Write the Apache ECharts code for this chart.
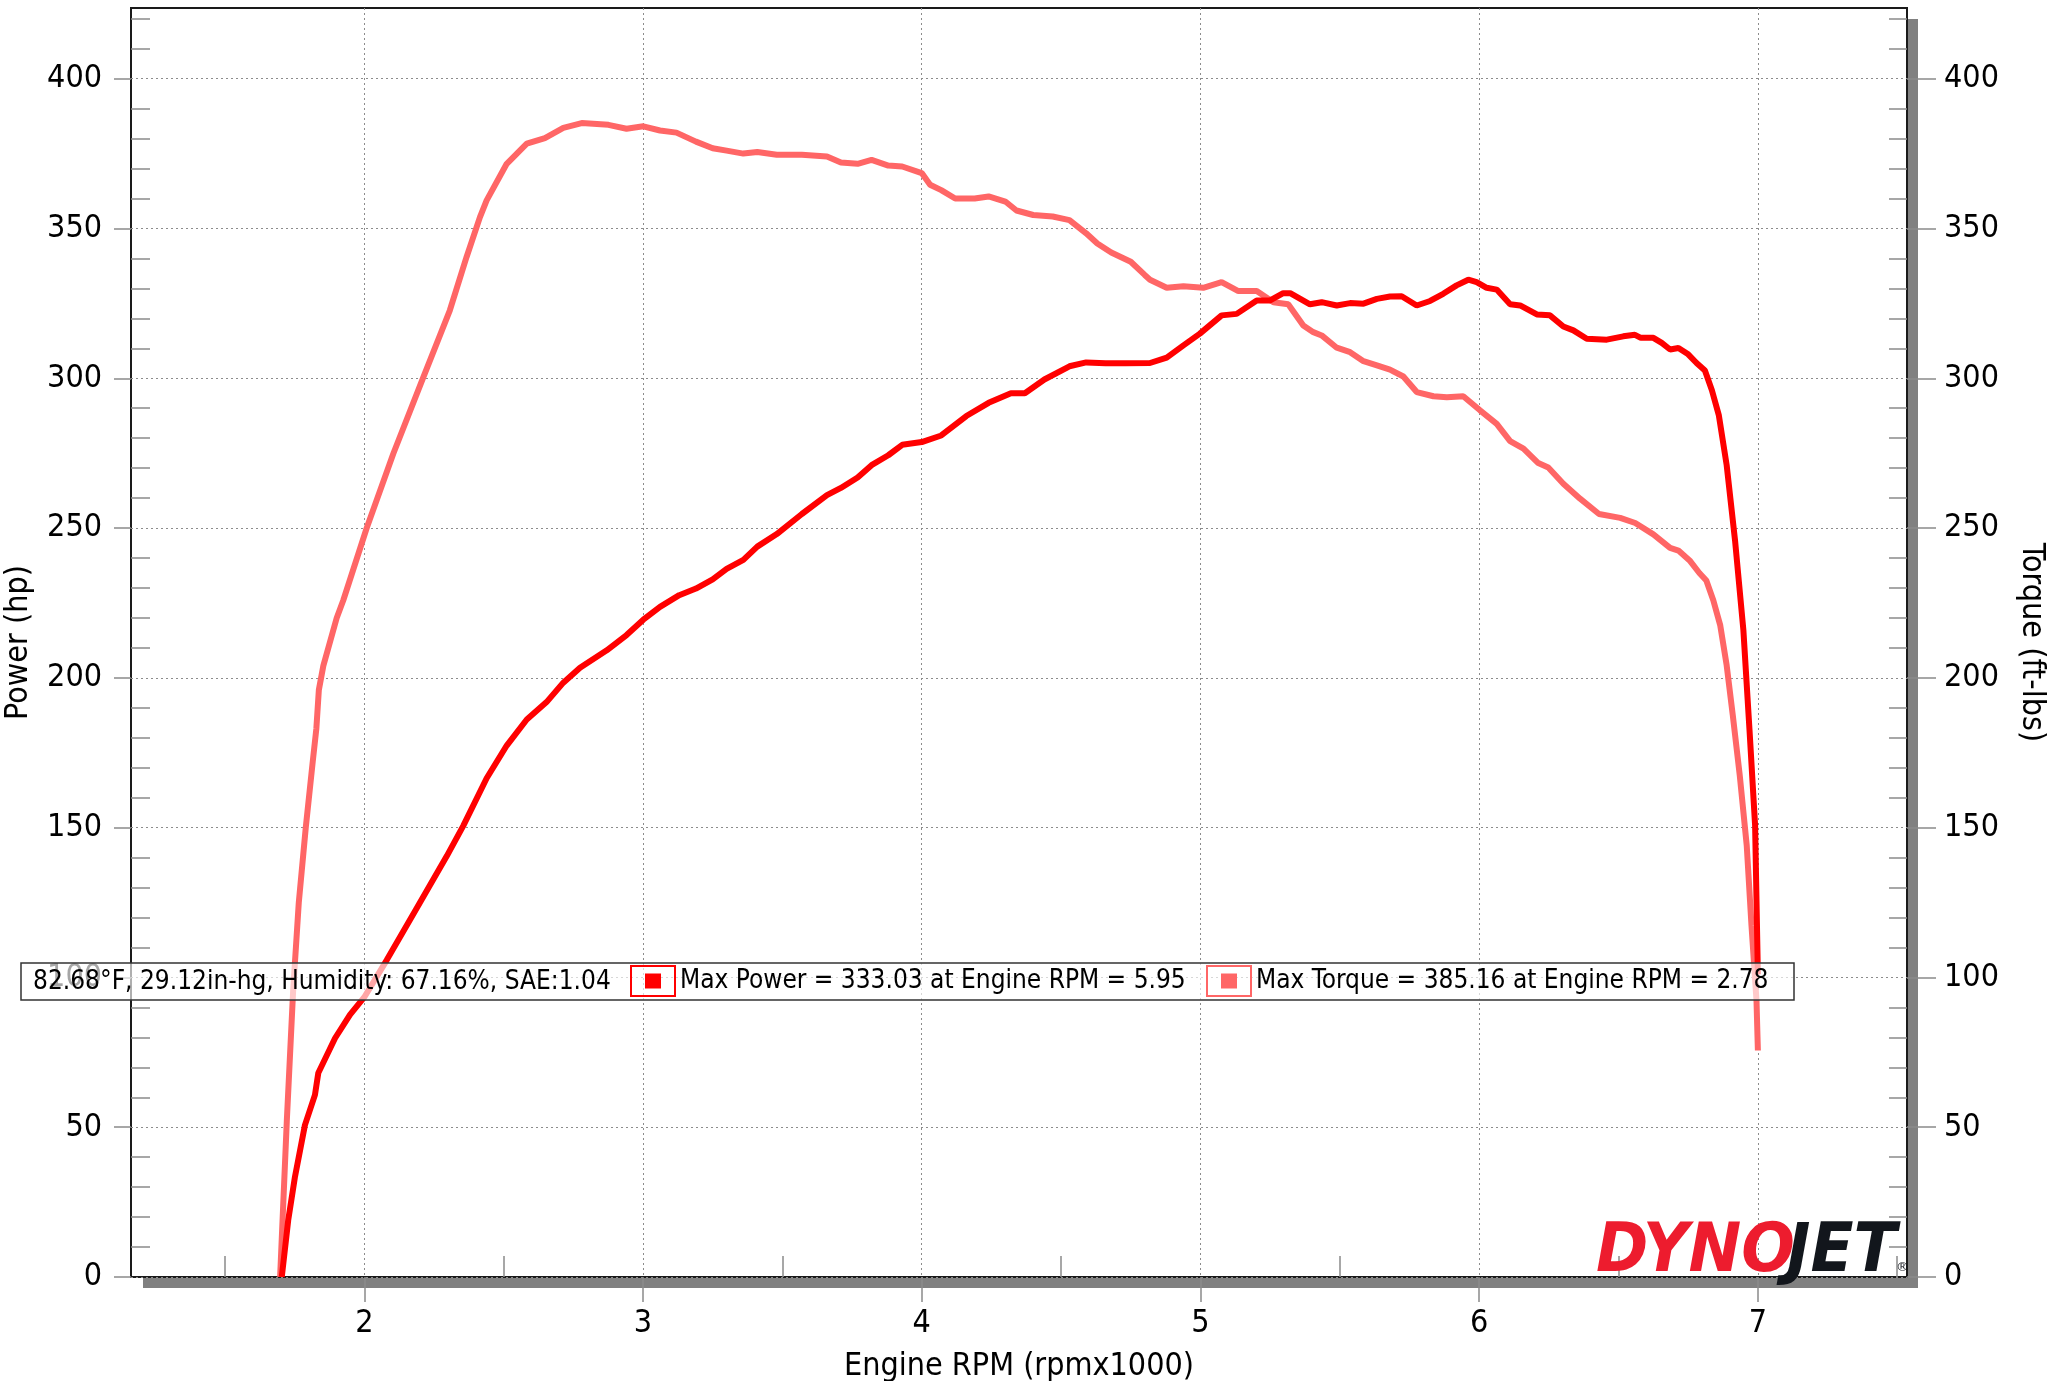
<!DOCTYPE html>
<html><head><meta charset="utf-8">
<script src="https://cdn.jsdelivr.net/npm/echarts@6/dist/echarts.min.js"></script>
<style>html,body{margin:0;padding:0;background:#fff}#c{width:2049px;height:1381px}</style>
</head><body><div id="c"></div>
<script>
const FONT = '"DejaVu Sans Condensed", "DejaVu Sans", sans-serif';

const powerRpm = [1.704,1.727,1.751,1.787,1.823,1.835,1.895,1.949,2.0,2.08,2.188,2.296,2.355,2.439,2.511,2.583,2.654,2.714,2.774,2.87,2.941,3.001,3.061,3.13,3.19,3.25,3.30,3.36,3.41,3.48,3.57,3.66,3.71,3.77,3.82,3.88,3.93,4.0,4.07,4.16,4.24,4.32,4.37,4.44,4.53,4.59,4.66,4.73,4.819,4.879,4.939,4.998,5.076,5.130,5.202,5.25,5.297,5.322,5.393,5.435,5.489,5.537,5.585,5.633,5.68,5.722,5.776,5.824,5.871,5.919,5.961,5.991,6.027,6.063,6.111,6.147,6.207,6.254,6.302,6.338,6.386,6.458,6.517,6.559,6.58,6.625,6.655,6.685,6.715,6.75,6.78,6.81,6.835,6.86,6.888,6.918,6.948,6.97,6.99,7.0];
const powerHp = [0,18.9,33.3,50.7,60.8,68.1,79.7,87.6,93.4,105.7,123.1,140.5,150.6,166.5,177.4,186.1,191.9,198.4,203.4,209.2,214.3,219.4,223.7,227.6,229.8,232.9,236.4,239.4,243.8,248,254.7,261,263.4,266.9,271,274.3,277.8,278.7,280.9,287.4,291.8,295,295,299.6,304,305.3,305,305,305.1,306.9,311,314.9,321,321.5,326,326,328.4,328.4,324.7,325.4,324.3,325.1,324.9,326.5,327.3,327.4,324.3,325.8,328.2,331,332.9,332.1,330.2,329.6,324.7,324.3,321.3,321,317.3,316,313.2,312.9,314,314.5,313.5,313.5,311.8,309.6,310.1,308,305.1,302.6,296,287.6,271,245.9,215.9,182.5,150.8,101];

const torqueRpm = [1.698,1.722,1.745,1.765,1.79,1.815,1.828,1.837,1.853,1.901,1.925,2.009,2.104,2.212,2.307,2.367,2.415,2.439,2.511,2.583,2.648,2.714,2.78,2.876,2.941,3.001,3.061,3.12,3.19,3.25,3.30,3.36,3.41,3.48,3.57,3.66,3.71,3.77,3.82,3.88,3.93,4.0,4.03,4.07,4.12,4.19,4.24,4.30,4.34,4.40,4.47,4.53,4.59,4.63,4.68,4.75,4.80,4.819,4.879,4.939,5.01,5.076,5.136,5.202,5.262,5.315,5.369,5.405,5.435,5.489,5.537,5.585,5.633,5.68,5.728,5.776,5.836,5.884,5.943,6.003,6.063,6.111,6.159,6.212,6.248,6.302,6.362,6.43,6.506,6.56,6.625,6.685,6.715,6.755,6.79,6.815,6.84,6.865,6.888,6.91,6.935,6.96,6.977,6.995,7.0];
const torqueFtLbs = [0,52,96,125,150,172,183,196,204,220,226,250.1,274.8,300.4,322.7,340.5,353.8,359.4,371.6,378.3,380.2,383.6,385.2,384.6,383.3,384.1,382.7,382,379,376.8,376,375,375.5,374.6,374.6,374,372,371.6,372.9,371,370.7,368.5,364.6,362.8,360,360,360.7,359,356,354.5,354,352.8,348.4,345,342,338.9,334.5,332.9,330.2,330.7,330.2,332.1,329.1,329.1,325.4,324.7,317.6,315.4,314.3,310.2,308.7,305.7,304.3,302.9,300.6,295.4,294,293.7,294,289.3,284.8,279,276.5,271.7,270.2,264.8,259.8,254.7,253.4,251.7,247.9,243.4,242.5,239.2,235,232.5,225.9,217.5,204.2,187.5,167.4,144,117.4,92.3,75.6];

const xMajorTicks = [2, 3, 4, 5, 6, 7];
const xMinorTicks = [1.5, 2.5, 3.5, 4.5, 5.5, 6.5, 7.5];
const yMajorTicks = [0, 50, 100, 150, 200, 250, 300, 350, 400];
const yMinorTicks = [10,20,30,40,60,70,80,90,110,120,130,140,160,170,180,190,210,220,230,240,260,270,280,290,310,320,330,340,360,370,380,390,410,420];

const weatherText = '82.68°F, 29.12in-hg, Humidity: 67.16%, SAE:1.04';
const maxPower = '333.03', maxPowerRpm = '5.95';
const maxTorque = '385.16', maxTorqueRpm = '2.78';
const powerName = 'Max Power = ' + maxPower + ' at Engine RPM = ' + maxPowerRpm;
const torqueName = 'Max Torque = ' + maxTorque + ' at Engine RPM = ' + maxTorqueRpm;

const X_MIN = 1.163, X_MAX = 7.535, Y_MIN = 0, Y_MAX = 423.6;
const GL = 131, GT = 8, GW = 1776, GH = 1269;

const powerData = powerRpm.map((r, i) => [r, powerHp[i]]);
const torqueData = torqueRpm.map((r, i) => [r, torqueFtLbs[i]]);

const tickColor = '#8a8a8a';
const gridLine = { show: true, lineStyle: { color: '#8c8c8c', width: 1, type: [2, 3] } };
const labelStyle = { color: '#000', fontFamily: FONT, fontSize: 32 };
const LOGO_FONT = 'italic bold 68px "DejaVu Sans Condensed", "DejaVu Sans", sans-serif';

const iconPath = 'path://M0,0 L46,0 L46,32 L0,32 Z M2,2 L2,30 L44,30 L44,2 Z M15,8.5 L31,8.5 L31,23.5 L15,23.5 Z';

const chart = echarts.init(document.getElementById('c'), null, { renderer: 'canvas' });
chart.setOption({
  animation: false,
  backgroundColor: '#fff',
  grid: { left: GL, top: GT, width: GW, height: GH, show: true, borderColor: '#1a1a1a', borderWidth: 2,
          backgroundColor: 'transparent', containLabel: false, outerBoundsMode: 'none' },
  xAxis: [
    { type: 'value', position: 'bottom', min: X_MIN, max: X_MAX,
      axisLine: { show: false },
      axisTick: { show: true, customValues: xMajorTicks, length: 25, lineStyle: { color: tickColor, width: 1.5 } },
      axisLabel: { customValues: xMajorTicks, margin: 31, ...labelStyle },
      splitLine: gridLine,
      name: 'Engine RPM (rpmx1000)', nameLocation: 'middle', nameGap: 74,
      nameTextStyle: { color: '#000', fontFamily: FONT, fontSize: 32 } },
    { type: 'value', position: 'bottom', min: X_MIN, max: X_MAX,
      axisLine: { show: false },
      axisTick: { show: true, inside: true, customValues: xMinorTicks, length: 21, lineStyle: { color: tickColor, width: 1.5 } },
      axisLabel: { show: false }, splitLine: { show: false } }
  ],
  yAxis: [
    { type: 'value', position: 'left', min: Y_MIN, max: Y_MAX,
      axisLine: { show: false },
      axisTick: { show: true, customValues: yMajorTicks, length: 17, lineStyle: { color: tickColor, width: 1.5 } },
      axisLabel: { customValues: yMajorTicks, margin: 29, ...labelStyle },
      splitLine: gridLine,
      name: 'Power (hp)', nameLocation: 'middle', nameGap: 96,
      nameTextStyle: { color: '#000', fontFamily: FONT, fontSize: 32 } },
    { type: 'value', position: 'right', min: Y_MIN, max: Y_MAX,
      axisLine: { show: false },
      axisTick: { show: true, customValues: yMajorTicks, length: 29, lineStyle: { color: tickColor, width: 1.5 } },
      axisLabel: { customValues: yMajorTicks, margin: 37, ...labelStyle },
      splitLine: { show: false },
      name: 'Torque (ft-lbs)', nameLocation: 'middle', nameGap: 108, nameRotate: -90,
      nameTextStyle: { color: '#000', fontFamily: FONT, fontSize: 32 } },
    { type: 'value', position: 'left', min: Y_MIN, max: Y_MAX,
      axisLine: { show: false },
      axisTick: { show: true, inside: true, customValues: yMinorTicks, length: 19, lineStyle: { color: tickColor, width: 1.5 } },
      axisLabel: { show: false }, splitLine: { show: false } },
    { type: 'value', position: 'right', min: Y_MIN, max: Y_MAX,
      axisLine: { show: false },
      axisTick: { show: true, inside: true, customValues: yMinorTicks, length: 18, lineStyle: { color: tickColor, width: 1.5 } },
      axisLabel: { show: false }, splitLine: { show: false } }
  ],
  legend: [
    { data: [{ name: powerName, icon: iconPath }], left: 630, top: 965, itemWidth: 46, itemHeight: 32, padding: 0, z: 20,
      itemStyle: { borderWidth: 0 }, selectedMode: false,
      textStyle: { color: '#000', fontFamily: FONT, fontSize: 26, padding: [0, 0, 0, -1] } },
    { data: [{ name: torqueName, icon: iconPath }], left: 1206, top: 965, itemWidth: 46, itemHeight: 32, padding: 0, z: 20,
      itemStyle: { borderWidth: 0 }, selectedMode: false,
      textStyle: { color: '#000', fontFamily: FONT, fontSize: 26, padding: [0, 0, 0, -1] } }
  ],
  graphic: [
    { type: 'rect', z: -10, shape: { x: 1907, y: 19, width: 11, height: 1269 }, style: { fill: '#808080' } },
    { type: 'rect', z: -10, shape: { x: 143, y: 1277, width: 1775, height: 11 }, style: { fill: '#808080' } },
    { type: 'text', z: 1, x: 1596, y: 1253, scaleX: 1.03, style: { text: 'DYNO', fill: '#ed1c2e', font: LOGO_FONT, verticalAlign: 'middle' } },
    { type: 'text', z: 1, x: 1787, y: 1253, scaleX: 1.03, style: { text: 'JET', fill: '#12161c', font: LOGO_FONT, verticalAlign: 'middle' } },
    { type: 'text', z: 1, x: 1896, y: 1268, style: { text: '®', fill: '#12161c', font: '13px "DejaVu Sans", sans-serif', verticalAlign: 'middle' } },
    { type: 'rect', z: 5, shape: { x: 21, y: 963, width: 1773, height: 37 }, style: { fill: 'rgba(255,255,255,0.65)', stroke: '#333', lineWidth: 1.5 } },
    { type: 'text', z: 21, x: 33, y: 982, style: { text: weatherText, fill: '#000', font: '26px ' + FONT, verticalAlign: 'middle' } }
  ],
  series: [
    { name: powerName, type: 'line', xAxisIndex: 0, yAxisIndex: 0, data: powerData, showSymbol: false, symbol: 'none',
      itemStyle: { color: '#ff0000' }, lineStyle: { color: '#ff0000', width: 6 }, z: 3 },
    { name: torqueName, type: 'line', xAxisIndex: 0, yAxisIndex: 1, data: torqueData, showSymbol: false, symbol: 'none',
      itemStyle: { color: '#ff6666' }, lineStyle: { color: '#ff6666', width: 6 }, z: 2 }
  ]
});
</script></body></html>
